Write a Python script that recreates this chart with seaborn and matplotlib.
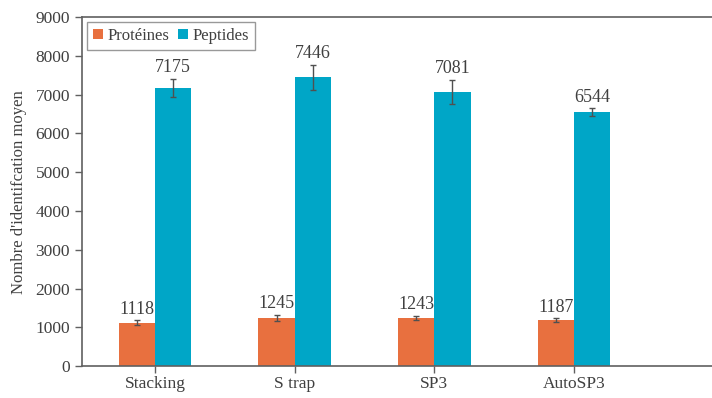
import numpy as np
import matplotlib
matplotlib.use("Agg")
import matplotlib.pyplot as plt
import pandas as pd
import seaborn as sns

methods = ["Stacking", "S trap", "SP3", "AutoSP3"]
proteines = [1118, 1245, 1243, 1187]
peptides = [7175, 7446, 7081, 6544]
err_proteines = [65, 80, 50, 45]
err_peptides = [230, 330, 310, 100]

df = pd.DataFrame({
    "methode": methods * 2,
    "type": ["Protéines"] * 4 + ["Peptides"] * 4,
    "valeur": proteines + peptides,
    "err": err_proteines + err_peptides,
})

sns.set_style("white")
plt.rcParams["font.family"] = ["Liberation Serif", "DejaVu Serif"]
text_col = "#404040"

fig = plt.figure(figsize=(7.12, 3.98), dpi=100)
ax = fig.add_axes([0.115, 0.08, 0.885, 0.877])

sns.barplot(data=df, x="methode", y="valeur", hue="type", order=methods,
            hue_order=["Protéines", "Peptides"],
            palette=["#E8703F", "#00A6C7"], width=0.52, errorbar=None,
            saturation=1, ax=ax, edgecolor="none")

# error bars + labels from bar patches
for cont, vals, errs in zip(ax.containers, [proteines, peptides], [err_proteines, err_peptides]):
    for bar, v, e in zip(cont, vals, errs):
        xc = bar.get_x() + bar.get_width() / 2
        ax.errorbar(xc, v, yerr=e, fmt="none", ecolor="#505050", elinewidth=1,
                    capsize=2.5, capthick=1)
        ax.annotate(f"{v}", (xc, v + e), xytext=(0, 2), textcoords="offset points",
                    ha="center", va="bottom", fontsize=13, color=text_col)

ax.set_ylim(0, 9000)
ax.set_xlim(-0.525, 3.99)
ax.set_yticks(np.arange(0, 9001, 1000))
ax.set_xlabel("")
ax.set_ylabel("Nombre d'identifcation moyen", fontsize=12, color=text_col, labelpad=6)

for s in ["left", "bottom", "top"]:
    ax.spines[s].set_color("#606060")
    ax.spines[s].set_linewidth(1.2)
ax.spines["right"].set_visible(False)
ax.tick_params(axis="both", direction="out", length=5, width=1, color="#606060",
               labelsize=12.5, labelcolor=text_col, left=True, bottom=True)
ax.tick_params(axis="x", pad=2)

leg = ax.legend(loc="upper left", bbox_to_anchor=(0.0, 1.0), borderaxespad=0.3,
                ncol=2, fontsize=12, frameon=True, fancybox=False, handlelength=0.6,
                handleheight=0.6, handletextpad=0.3, columnspacing=0.5,
                borderpad=0.35, labelcolor=text_col)
leg.get_frame().set_edgecolor("#808080")
leg.get_frame().set_linewidth(1)

fig.savefig("out.png", dpi=100)
